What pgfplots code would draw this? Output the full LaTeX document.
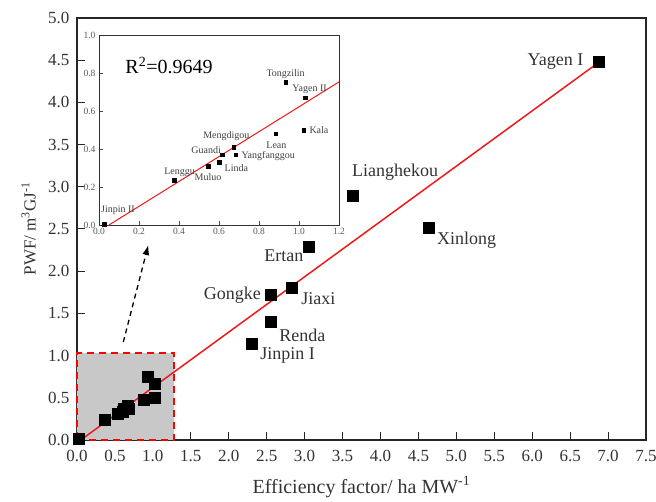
\documentclass[border=0pt]{standalone}
\usepackage{fontspec}
\setmainfont{Liberation Serif}
\usepackage{pgfplots}
\pgfplotsset{compat=1.18}
\usetikzlibrary{arrows.meta,calc}

\definecolor{boxgray}{HTML}{C8C8C8}
\definecolor{fitred}{HTML}{F01818}

\begin{document}
\begin{tikzpicture}
\begin{axis}[name=main,
  scale only axis, width=569bp, height=422bp,
  xmin=0, xmax=7.5, ymin=0, ymax=5,
  xtick distance=0.5, ytick distance=0.5,
  tick align=inside, tick pos=left, major tick length=8bp,
  axis line style={line width=1.2bp, black!85},
  major tick style={line width=1bp, black!85},
  /pgf/number format/.cd, fixed, fixed zerofill, precision=1, assume math mode=true,
  /pgfplots/.cd,
  tick label style={font=\fontsize{17bp}{20bp}\selectfont, text=black!80},
  xticklabel style={yshift=-7bp},
  yticklabel style={xshift=-4bp},
  xlabel={Efficiency factor/ ha MW\textsuperscript{-1}},
  ylabel={PWF/ m\textsuperscript{3}GJ\textsuperscript{-1}},
  xlabel style={font=\fontsize{20bp}{24bp}\selectfont, text=black!80,
    at={(axis description cs:0.5,-0.112)}, anchor=center},
  ylabel style={font=\fontsize{17bp}{20bp}\selectfont, text=black!80,
    at={(axis description cs:-0.085,0.5)}, anchor=center},
  clip=false,
]
% highlighted region
\addplot[fill=boxgray, draw=red, dashed, line width=1.5bp, dash pattern=on 7bp off 5bp]
  coordinates {(0,0) (1.28,0) (1.28,1.03) (0,1.03) (0,0)};
% stations
\addplot[only marks, mark=square*, mark size=5.5bp, black]
  coordinates {
  (6.87,4.48) (3.63,2.90) (4.64,2.51) (3.06,2.29) (2.55,1.72) (2.83,1.81)
  (2.55,1.40) (2.30,1.14)
  (0.02,0.01) (0.37,0.24) (0.54,0.31) (0.60,0.33) (0.61,0.37) (0.67,0.41)
  (0.68,0.37) (0.88,0.48) (1.02,0.50) (1.03,0.67) (0.93,0.75)};
% fit
\addplot[fitred, line width=1.5bp] coordinates {(0.05,0) (6.87,4.47)};

\draw[-{Latex[length=10bp,width=7bp]}, dashed, line width=1.3bp, dash pattern=on 5bp off 4bp]
  (axis cs:0.61,1.16) -- (axis cs:0.94,2.31);

\begin{scope}[font=\fontsize{18bp}{21bp}\selectfont, text=black!80]
\node[anchor=east] at (axis cs:6.72,4.48) {Yagen I};
\node[anchor=base west] at (axis cs:3.58,3.12) {Lianghekou};
\node[anchor=west] at (axis cs:4.70,2.37) {Xinlong};
\node[anchor=east] at (axis cs:3.03,2.18) {Ertan};
\node[anchor=east] at (axis cs:2.47,1.71) {Gongke};
\node[anchor=west] at (axis cs:2.91,1.68) {Jiaxi};
\node[anchor=west] at (axis cs:2.62,1.24) {Renda};
\node[anchor=west] at (axis cs:2.37,1.00) {Jinpin I};
\end{scope}
\end{axis}

\begin{axis}[name=inset,
  at={($(main.south west)+(22bp,215bp)$)}, anchor=south west,
  scale only axis, width=240bp, height=190bp,
  xmin=0, xmax=1.2, ymin=0, ymax=1,
  xtick distance=0.2, ytick distance=0.2,
  tick align=inside, tick pos=left, major tick length=4bp,
  axis background/.style={fill=white},
  axis line style={line width=0.8bp, black!80},
  major tick style={line width=0.7bp, black!70},
  /pgf/number format/.cd, fixed, fixed zerofill, precision=1, assume math mode=true,
  /pgfplots/.cd,
  tick label style={font=\fontsize{9.5bp}{11bp}\selectfont, text=black!65},
  clip=false,
]
\addplot[only marks, mark=square*, mark size=1.8bp, black]
  coordinates {
  (0.025,0.005) (0.375,0.237) (0.545,0.31) (0.60,0.33) (0.615,0.37) (0.673,0.41)
  (0.683,0.37) (0.883,0.48) (1.023,0.50) (1.03,0.67) (0.933,0.75)};
\addplot[fitred, line width=1bp] coordinates {(0.05,0) (1.2,0.753)};

\node at (axis cs:0.35,0.84) {\fontsize{20bp}{24bp}\selectfont R\textsuperscript{2}=0.9649};
\begin{scope}[font=\fontsize{10bp}{12bp}\selectfont, text=black!75]
\node at (axis cs:0.933,0.795) {Tongzilin};
\node at (axis cs:1.053,0.715) {Yagen II};
\node[anchor=west] at (axis cs:1.035,0.50) {Kala};
\node at (axis cs:0.887,0.42) {Lean};
\node at (axis cs:0.637,0.468) {Mengdigou};
\node at (axis cs:0.536,0.395) {Guandi};
\node[anchor=west] at (axis cs:0.695,0.364) {Yangfanggou};
\node at (axis cs:0.687,0.30) {Linda};
\node at (axis cs:0.545,0.254) {Muluo};
\node at (axis cs:0.403,0.277) {Lenggu};
\node at (axis cs:0.095,0.075) {Jinpin II};
\end{scope}
\end{axis}

\pgfresetboundingbox
\path[use as bounding box] ($(main.south west)+(-77bp,-62bp)$) rectangle ($(main.north east)+(10bp,18bp)$);
\end{tikzpicture}
\end{document}
